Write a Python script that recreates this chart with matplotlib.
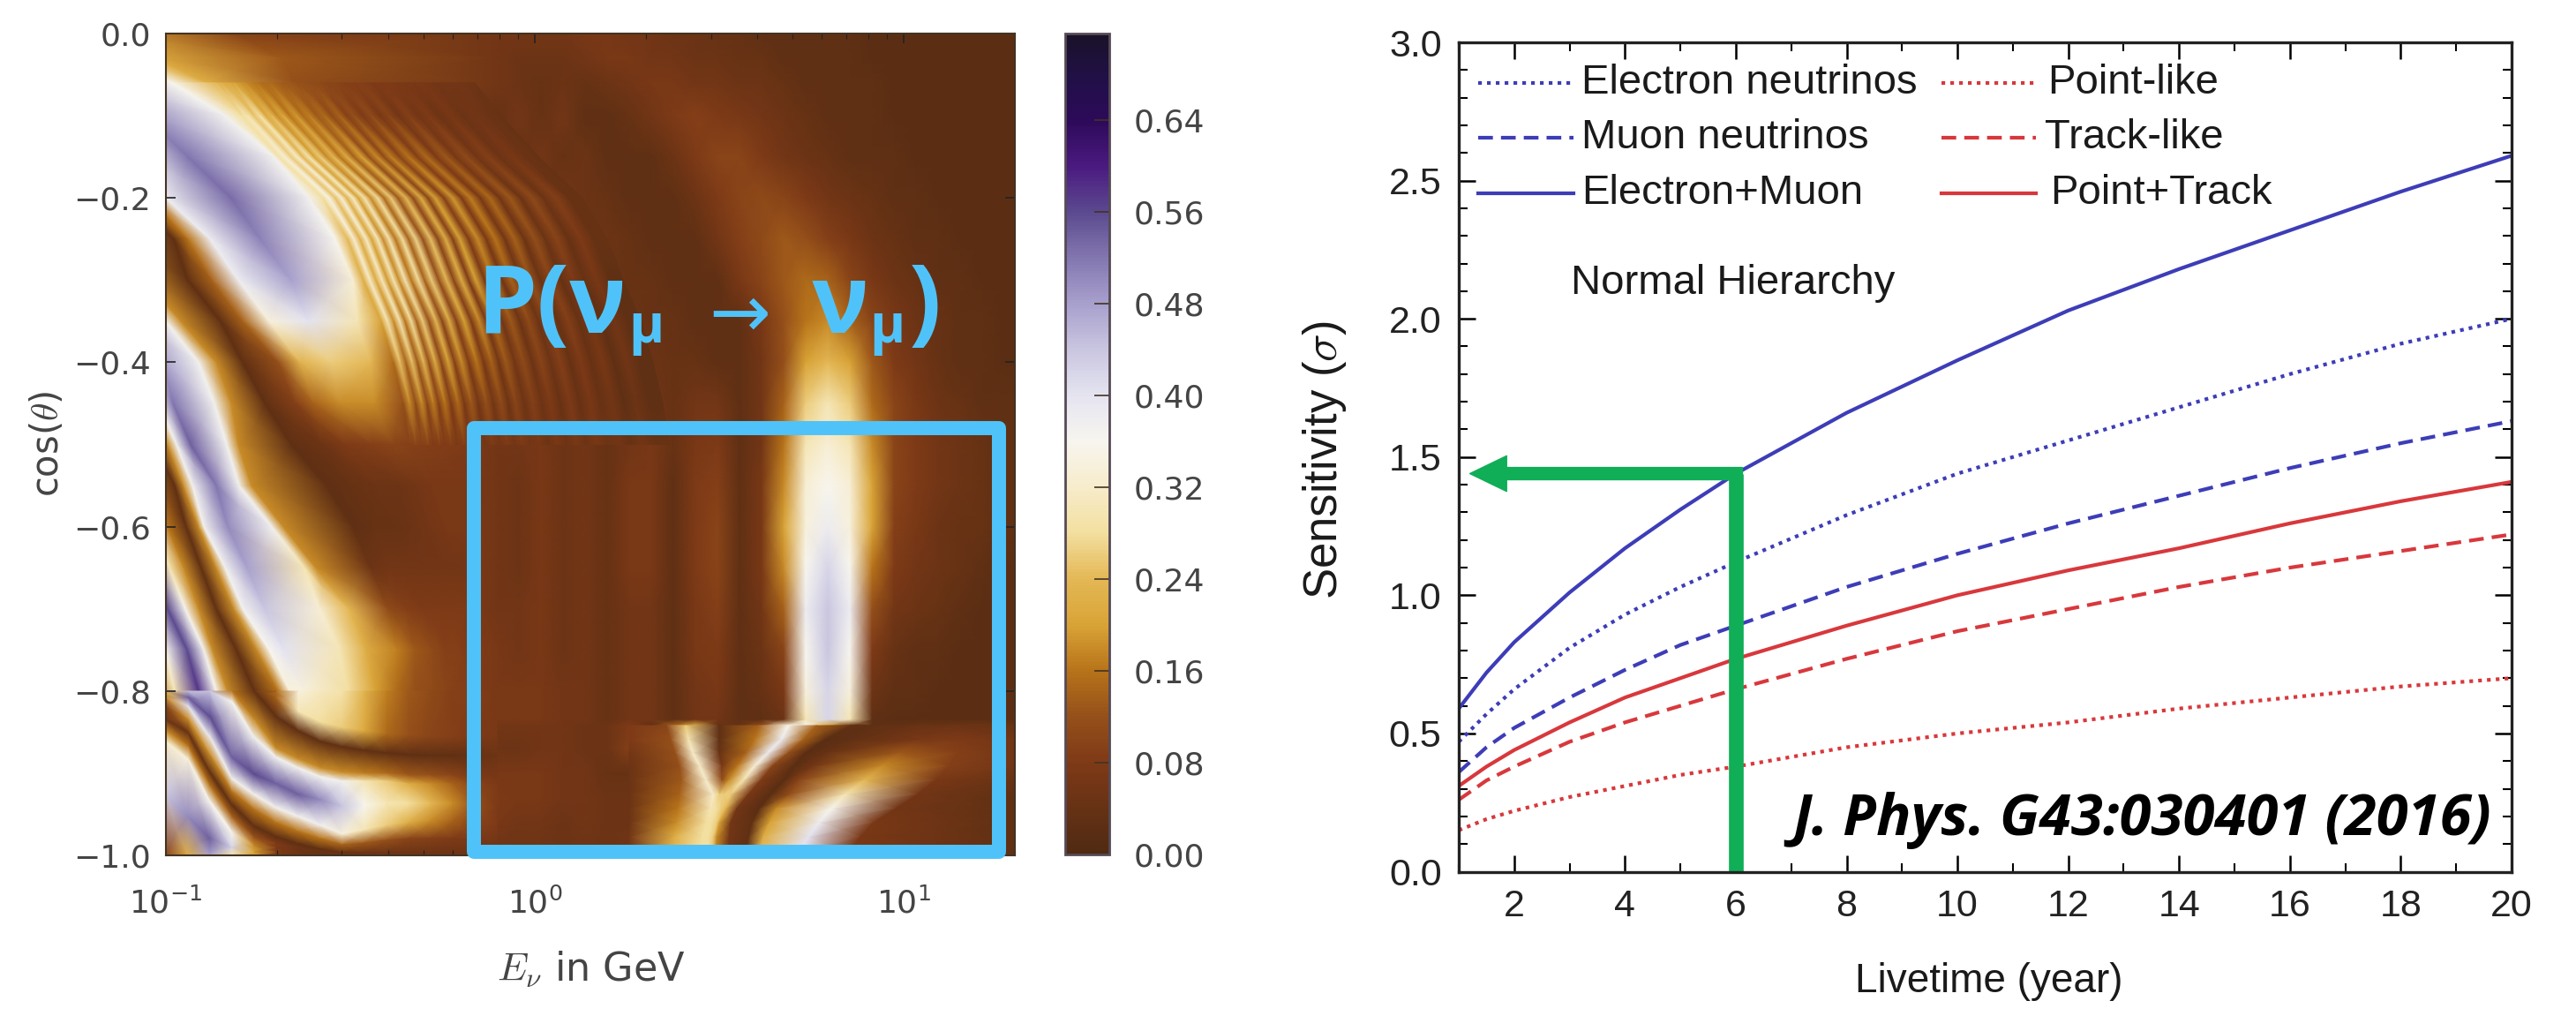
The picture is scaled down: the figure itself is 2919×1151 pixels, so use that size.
import numpy as np
import matplotlib
matplotlib.use("Agg")
import matplotlib.pyplot as plt
from matplotlib.colors import LinearSegmentedColormap
from matplotlib.patches import Rectangle
from matplotlib.ticker import MultipleLocator

# left panel: probability, in units of 0.01
log_energy = [-1.0, -.94, -.881, -.821, -.761, -.701, -.641, -.581, -.522, -.462,
              -.402, -.342, -.282, -.223, -.163, -.103, -.043, .017, .076, .136,
              .196, .256, .316, .375, .435, .495, .555, .615, .675, .734,
              .794, .854, .914, .974, 1.033, 1.093, 1.153, 1.213, 1.273, 1.301]
cos_theta = [0.0, -.03, -.06, -.1, -.15, -.2, -.25, -.3, -.35, -.4, -.45, -.5, -.55,
             -.6, -.65, -.7, -.75, -.8, -.835, -.842, -.87, -.9, -.93, -.96, -1.0]
prob = [
    [14,12,10,9,8,8,7,7,7,6, 6,7,6,6,6,6,6,6,6,7, 7,6,6,5,5,4,4,3,3,3, 3,3,2,2,2,2,2,2,2,2],
    [20,16,13,12,11,10,9,8,8,7, 7,7,6,6,6,6,5,5,5,6, 7,7,6,6,5,5,4,4,3,3, 3,3,2,2,2,2,2,2,2,2],
    [36,30,21,17,14,12,11,10,9,8, 8,7,7,7,5,6,5,4,5,4, 5,6,7,7,6,6,5,5,4,3, 3,3,3,2,2,2,2,2,2,2],
    [44,40,38,35,27,21,17,14,12,10, 9,9,7,7,5,4,6,4,6,3, 3,4,6,8,9,8,7,6,5,4, 3,3,3,2,2,2,2,2,2,2],
    [52,50,47,42,38,36,28,22,18,14, 14,10,8,9,6,7,4,6,4,5, 3,3,3,5,8,10,10,8,6,5, 4,3,3,3,2,2,2,2,2,2],
    [38,46,50,52,47,42,38,34,26,20, 20,14,12,9,8,6,7,4,6,5, 4,3,3,3,5,8,10,11,10,8, 6,5,4,3,3,2,2,2,2,2],
    [5,14,34,42,50,50,42,38,30,24, 20,14,14,9,8,8,5,6,4,5, 5,4,3,3,3,6,9,11,13,12, 9,7,5,4,3,3,2,2,2,2],
    [10,3,14,32,38,44,44,38,33,28, 24,18,14,10,9,7,6,5,5,5, 5,4,4,3,3,3,7,10,13,15, 14,10,7,5,4,3,3,2,2,2],
    [30,8,3,8,22,32,36,33,30,26, 20,15,12,9,8,6,5,5,5,4, 4,5,4,4,3,3,3,7,12,16, 18,14,10,7,5,4,3,3,2,2],
    [46,38,16,5,3,8,20,24,24,22, 18,14,10,9,8,6,6,5,5,4, 4,5,5,4,4,3,3,6,12,20, 24,20,13,8,6,4,3,3,2,2],
    [52,47,32,8,3,3,9,14,15,14, 13,11,9,8,7,6,5,6,5,5, 4,6,6,4,6,6,3,6,14,26, 30,26,15,10,7,5,4,3,3,3],
    [33,52,44,30,5,3,3,5,7,7, 7,6,7,7,7,6,6,7,5,6, 4,6,7,4,7,8,3,6,16,30, 33,30,18,10,8,6,5,4,3,3],
    [6,34,50,42,22,4,2,3,4,4, 5,5,6,7,7,6,5,7,5,6, 4,7,7,3,8,9,3,7,18,33, 36,33,20,10,8,6,5,4,3,3],
    [8,15,36,50,46,34,14,4,3,3, 4,5,6,7,6,6,5,7,5,6, 4,7,7,3,8,10,3,7,20,34, 38,34,20,9,7,5,4,4,3,3],
    [20,5,6,34,46,46,36,24,10,6, 6,6,6,6,6,6,5,7,5,6, 4,7,7,3,8,10,3,7,18,36, 42,36,16,8,6,5,4,3,2,2],
    [46,10,4,10,38,44,38,30,24,17, 13,9,9,8,7,6,6,7,5,6, 4,6,6,3,7,9,3,6,14,38, 44,38,12,6,5,4,3,2,2,2],
    [30,56,14,3,4,34,38,32,26,22, 19,14,11,9,8,7,6,7,5,6, 4,6,6,3,7,8,3,5,10,36, 44,36,8,4,3,3,2,2,2,2],
    [16,58,36,10,3,16,30,30,24,21, 17,13,11,9,9,7,7,7,6,6, 4,6,6,3,6,7,3,4,7,34, 42,34,5,3,3,2,2,2,2,2],
    [10,46,52,22,4,3,10,26,26,22, 16,12,10,9,8,7,7,7,6,6, 4,6,6,3,6,6,3,3,5,30, 42,30,3,2,2,2,2,2,2,2],
    [20,15,38,20,6,3,4,6,9,13, 12,8,7,8,7,6,6,6,6,5, 5,8,3,14,22,4,4,12,32,36, 20,4,3,3,4,4,5,5,5,4],
    [30,4,14,42,34,14,7,4,3,2, 2,2,2,3,4,5,5,6,6,5, 5,9,4,10,26,7,5,26,36,12, 2,2,3,5,7,7,8,7,6,5],
    [40,25,4,26,52,50,34,26,18,10, 7,6,5,5,6,7,7,7,6,6, 4,4,4,6,28,12,8,30,24,3, 6,16,16,11,9,8,6,5,5,4],
    [42,38,7,10,36,52,56,44,38,32, 26,22,18,14,10,8,7,7,6,6, 5,5,4,8,28,28,24,10,3,16, 26,26,22,14,9,6,4,3,3,3],
    [40,44,22,5,14,30,36,38,34,30, 24,18,17,13,9,7,6,6,5,6, 5,5,6,9,30,32,22,5,14,32, 36,24,13,8,5,3,3,3,3,3],
    [12,30,56,18,6,4,3,5,6,8, 6,5,5,5,5,5,5,5,5,5, 5,6,10,12,28,30,12,4,26,38, 34,14,6,4,3,3,3,3,3,3],
]
# low-energy bands: every row holds where each band sits, in 1/418 decade above 0.1 GeV
band_cos = cos_theta[:18]
band_pos = [
    [-888,-838,-788,-738,-688,-638,-588,-538,-488,-438,-388,-338,-288,-238,-188,-128,-68,80,375],
    [-748,-708,-668,-628,-588,-548,-508,-468,-428,-388,-348,-308,-268,-228,-128,-58,-13,130,375],
    [-648,-608,-568,-528,-488,-448,-408,-368,-328,-288,-248,-208,-178,-148,-88,7,47,147,375],
    [-488,-468,-448,-428,-408,-388,-368,-348,-328,-308,-288,-118,-98,-78,-23,67,100,187,375],
    [-408,-388,-368,-348,-328,-308,-288,-268,-248,-208,-188,-68,-43,-28,25,122,147,237,375],
    [-328,-308,-288,-268,-248,-228,-218,-208,-198,-138,-118,-43,-18,0,74,162,182,262,375],
    [-288,-268,-248,-228,-208,-178,-158,-148,-128,-83,-68,9,25,50,107,192,204,284,375],
    [-248,-228,-208,-188,-168,-138,-113,-98,-78,-38,-23,25,52,82,142,212,227,302,375],
    [-198,-178,-158,-138,-118,-93,-78,-63,-38,0,17,62,87,117,162,217,237,320,375],
    [-163,-143,-123,-103,-83,-58,-43,-28,-3,37,57,87,127,152,187,232,262,334,375],
    [-143,-123,-103,-83,-63,-38,-23,-8,8,55,74,112,147,167,197,237,272,342,375],
    [-118,-98,-78,-58,-38,-13,2,12,28,69,82,142,177,202,232,257,287,347,375],
    [-98,-78,-58,-28,-13,10,20,30,57,83,97,182,212,237,262,282,302,352,375],
    [-98,-68,-38,-13,2,23,37,43,70,120,133,212,237,257,277,297,317,357,375],
    [-63,-38,-18,4,20,40,57,67,92,157,170,232,252,272,292,312,332,357,375],
    [-38,-18,2,22,37,57,77,87,112,174,207,252,272,292,312,327,342,357,375],
    [-23,0,24,43,53,80,103,117,134,197,227,262,282,302,317,332,347,360,375],
    [-13,10,37,57,70,100,127,140,157,207,237,262,282,302,317,332,347,360,375],
]
band_prob = [
    [16,16,16,16,16,16,16,16,16,16,16,16,16,16,16,18,20,10,6],
    [30,30,30,30,30,30,30,30,30,30,30,30,30,30,44,30,21,13,6],
    [30,30,30,30,30,30,30,30,30,30,30,10,15,37,50,36,22,12,6],
    [30,30,30,30,30,30,30,30,30,30,18,3,18,37,50,37,27,13,4],
    [30,30,30,30,18,3,18,37,52,37,18,3,18,38,52,37,27,14,7],
    [30,40,50,37,18,3,18,37,52,37,18,4,16,38,53,37,28,14,6],
    [30,40,50,37,18,3,18,37,52,37,18,3,16,38,51,36,26,15,8],
    [30,40,50,37,18,3,18,37,52,37,18,3,14,38,48,33,25,15,7],
    [30,40,50,37,18,3,18,37,52,37,18,3,14,34,40,30,22,13,6],
    [30,40,50,37,18,3,18,37,48,37,18,3,12,23,26,24,22,13,6],
    [30,40,50,37,18,3,18,37,52,37,18,3,9,14,18,18,15,10,6],
    [30,40,50,37,18,3,18,37,54,37,18,3,5,8,9,10,9,8,6],
    [24,40,50,30,14,3,18,37,52,37,18,3,4,5,5,6,7,7,6],
    [24,40,54,34,16,3,18,37,50,37,18,3,4,4,5,6,7,7,6],
    [30,40,56,30,18,3,18,37,48,30,18,5,6,6,6,6,6,7,6],
    [24,38,56,36,18,3,18,37,44,33,24,11,9,8,8,8,8,7,6],
    [18,36,56,37,18,3,18,36,40,30,22,17,13,11,9,9,8,8,7],
    [14,30,58,36,18,3,16,34,34,28,20,15,12,11,10,9,9,8,7],
]
# fringes right of the first bright band: trough, ridge, trough ... read along cos = -0.25,
# with how far each row sits from that one, same unit as band_pos
fringe_pos = [206,213,220,227,233,240,246,253,260,268,275,283,291,300,308,317,325,333,343,353,
              363,373,384,395,406,418,430,443,456,470,485,500]
fringe_cos = [-.06, -.1, -.15, -.2, -.25, -.3, -.35, -.4, -.45, -.5]
fringe_shift = [-150, -120, -78, -28, 0, 18, 38, 52, 63, 70]
fringe_left = [7, 67, 122, 162, 192, 212, 217, 232, 237, 257]
fringe_prob = [
    [36,24,22,21,20,19,18,17,16,15,15,14,13,13,12,12,11,11,10,10,9,9,9,8,8,8,7,7,7,6,6,6,5],
    [37,28,30,25,29,21,24,18,21,16,19,15,17,13,15,11,14,9,12,8,11,7,10,6,9,6,8,5,7,5,6,5,4],
    [37,29,33,26,32,24,30,20,26,18,24,16,22,14,20,12,18,11,17,10,16,9,15,8,13,7,11,6,9,5,7,5,4],
    [37,28,35,25,34,23,32,20,30,18,28,15,26,13,24,11,22,10,20,9,19,8,17,7,15,6,13,5,11,5,9,4,4],
    [36,24,33,22,32,20,31,18,30,16,28,14,27,12,25,10,22,9,20,8,18,7,16,6,14,5,12,5,10,4,8,4,4],
    [33,22,32,21,31,19,30,18,30,16,28,14,26,12,24,10,22,8,20,7,16,6,14,6,12,5,10,4,8,4,7,3,3],
    [30,20,30,18,30,16,28,14,26,12,24,10,22,9,20,8,18,7,15,6,13,5,11,5,10,4,9,4,7,3,6,3,3],
    [24,15,25,14,25,13,24,12,22,10,20,9,18,8,16,7,14,6,13,6,11,5,10,5,9,4,8,4,7,3,6,3,3],
    [18,12,18,11,18,10,17,9,16,8,15,7,13,6,12,6,11,5,10,5,9,5,8,4,8,4,7,4,6,3,5,3,3],
    [10,9,10,9,10,8,9,8,9,7,9,7,9,6,8,6,8,6,8,6,7,5,7,5,7,5,7,5,6,4,6,4,4],
]
# bottom left corner: one column per energy, where each band sits in 1/931 of the cos range
low_pos = [
    [745,745,745,745,745,745,752,762,777,790,802,862,931],
    [745,745,745,745,745,752,762,777,792,807,822,887,931],
    [745,745,745,745,745,774,797,817,837,852,870,912,931],
    [745,745,745,745,757,820,844,859,874,887,905,922,931],
    [745,745,745,777,797,839,862,879,898,910,920,927,931],
    [745,752,774,810,820,850,877,894,910,917,922,927,931],
    [745,768,790,822,832,862,887,904,918,922,926,928,931],
    [745,780,802,832,842,868,897,912,924,926,928,930,931],
    [745,786,808,837,847,875,907,919,928,929,930,930.5,931],
    [745,790,812,838,847,874,902,917,928,929,930,930.5,931],
    [745,793,815,838,847,872,897,914,928,929,930,930.5,931],
    [745,795,817,840,850,872,894,912,928,929,930,930.5,931],
    [745,796,818,840,850,872,892,912,928,929,930,930.5,931],
    [745,796,818,840,850,872,892,912,928,929,930,930.5,931],
    [745,796,818,842,850,874,892,914,928,929,930,930.5,931],
    [745,796,818,844,852,877,897,917,928,929,930,930.5,931],
]
low_prob = [
    [23,23,23,23,23,23,18,10,5,18,32,44,10],
    [45,45,45,45,45,54,40,18,4,16,34,50,22],
    [44,44,44,44,44,56,38,18,3,16,36,54,48],
    [16,16,16,16,36,54,37,16,3,14,36,42,30],
    [3,3,3,18,37,56,37,16,3,12,18,20,20],
    [15,14,3,18,37,54,37,16,3,8,8,8,8],
    [34,30,3,18,37,54,37,16,3,5,5,5,5],
    [31,28,3,18,37,50,37,16,3,4,4,4,4],
    [29,26,3,18,37,44,34,14,4,5,5,5,5],
    [23,21,3,17,30,36,30,13,5,5,5,5,5],
    [17,15,3,15,26,30,26,12,5,5,5,5,5],
    [13,12,3,13,22,28,22,10,5,5,5,5,5],
    [11,10,3,12,18,24,18,9,5,5,5,5,5],
    [9,9,3,10,14,18,14,8,5,5,5,5,5],
    [9,8,4,8,10,12,10,7,5,5,5,5,5],
    [7,7,5,7,8,8,8,6,5,5,5,5,5],
]
# below the break at high energy, same units: the V and the curved band right of it
core_depth = [784, 800, 815, 830, 846, 862, 878, 894, 910, 931]
core_pos = [
    [525,567,589,627,672,705,737,777,797,842,892,962],
    [525,572,592,627,667,697,722,747,772,852,897,962],
    [525,577,597,627,657,682,705,725,747,832,897,962],
    [525,582,605,630,647,667,687,712,732,812,887,962],
    [525,584,612,630,638,654,674,700,717,792,872,962],
    [525,582,620,627,632,640,660,685,707,770,852,962],
    [525,580,617,624,629,634,647,672,692,754,827,962],
    [525,578,612,618,624,627,640,664,684,740,802,962],
    [525,576,607,615,620,624,638,660,677,728,787,962],
    [525,576,607,615,620,624,638,657,672,717,772,962],
]
core_prob = [
    [8,10,26,3,14,36,14,3,3,4,5,4],
    [8,12,30,3,16,38,14,2,3,7,8,6],
    [6,12,32,4,14,38,12,2,4,13,9,6],
    [5,12,32,7,16,34,10,2,6,18,9,6],
    [5,13,32,12,18,30,8,2,10,24,7,4],
    [5,14,32,26,26,26,7,2,12,30,6,3],
    [5,16,30,28,26,24,6,2,18,36,6,3],
    [5,18,28,28,26,20,6,3,20,38,7,3],
    [6,22,28,28,26,18,6,3,22,40,7,3],
    [6,24,28,28,24,16,5,3,24,40,8,3],
]
cbar_ticks = [0.0, 0.08, 0.16, 0.24, 0.32, 0.40, 0.48, 0.56, 0.64]
cbar_stops = [(0.00, '#4f2a12'), (0.08, '#7f3a17'), (0.12, '#95501a'), (0.16, '#b8741a'),
              (0.20, '#d9a437'), (0.24, '#e4b856'), (0.28, '#f3dfa0'), (0.32, '#f7eccb'),
              (0.36, '#f7f5ef'), (0.40, '#e5e4f0'), (0.44, '#c9c6e0'), (0.48, '#a8a0cd'),
              (0.52, '#8377b0'), (0.56, '#5b4a8f'), (0.60, '#4b1a80'), (0.64, '#2d0a5a'),
              (0.68, '#201045'), (0.715, '#1a1228')]

# right panel
years = [1, 1.5, 2, 3, 4, 5, 6, 8, 10, 12, 14, 16, 18, 20]
electron = [.47, .57, .66, .81, .93, 1.03, 1.12, 1.29, 1.44, 1.56, 1.68, 1.80, 1.91, 2.00]
muon = [.36, .45, .52, .63, .73, .82, .89, 1.03, 1.15, 1.26, 1.36, 1.46, 1.55, 1.63]
electron_muon = [.59, .72, .83, 1.01, 1.17, 1.31, 1.44, 1.66, 1.85, 2.03, 2.18, 2.32, 2.46, 2.59]
point = [.15, .19, .22, .27, .31, .35, .38, .45, .50, .54, .59, .63, .67, .70]
track = [.26, .33, .38, .47, .54, .60, .66, .77, .87, .95, 1.03, 1.10, 1.16, 1.22]
point_track = [.31, .38, .44, .54, .63, .70, .77, .89, 1.00, 1.09, 1.17, 1.26, 1.34, 1.41]

W, H = 2919, 1151
BLUE = '#3d3db8'
RED = '#d8383c'
GREEN = '#0fae57'
CYAN = '#4fc3f9'
GREY = '#444444'
DOT = (0, (1, 1.4))
DASH = (0, (4, 2.2))

plt.rcParams['mathtext.fontset'] = 'cm'
fig = plt.figure(figsize=(W / 100, H / 100), dpi=100)


def box(x0, y0, x1, y1):
    return [x0 / W, 1 - y1 / H, (x1 - x0) / W, (y1 - y0) / H]


def put(x, y, s, **kw):
    fig.text(x / W, 1 - y / H, s, **kw)


def to_energy(pos):
    return 0.1 * 10 ** (np.array(pos) / 418)


# oscillogram
ax = fig.add_axes(box(188, 38, 1150, 969))
cmap = LinearSegmentedColormap.from_list('osc', [(v / 0.715, c) for v, c in cbar_stops])
energy = 10 ** np.array(log_energy)
shade = dict(cmap=cmap, vmin=0, vmax=0.715, shading='gouraud', rasterized=True)
mesh = ax.pcolormesh(energy, cos_theta, np.array(prob) / 100, **shade)

band_energy = to_energy(band_pos)
band_y = np.tile(np.array(band_cos)[:, None], (1, band_energy.shape[1]))
ax.pcolormesh(band_energy, band_y, np.array(band_prob) / 100, zorder=1.1, **shade)

fringe_x = np.array(fringe_pos) + np.array(fringe_shift)[:, None]
fringe_x = np.hstack([np.array(fringe_left)[:, None], fringe_x])
fringe_y = np.tile(np.array(fringe_cos)[:, None], (1, fringe_x.shape[1]))
ax.pcolormesh(to_energy(fringe_x), fringe_y, np.array(fringe_prob) / 100, zorder=1.15, **shade)

low_x = np.tile(energy[:16, None], (1, len(low_pos[0])))
ax.pcolormesh(low_x, -np.array(low_pos) / 931, np.array(low_prob) / 100, zorder=1.2, **shade)

core_y = np.tile(-np.array(core_depth)[:, None] / 931, (1, len(core_pos[0])))
ax.pcolormesh(to_energy(core_pos), core_y, np.array(core_prob) / 100, zorder=1.25, **shade)

ax.set_xscale('log')
ax.set_xlim(0.1, 20)
ax.set_ylim(-1, 0)
ax.set_yticks([-1, -.8, -.6, -.4, -.2, 0])
ax.tick_params(which='major', direction='in', length=8, width=1.2, labelsize=26,
               labelcolor=GREY, color='#222222', pad=12, top=True, right=True)
ax.tick_params(which='minor', direction='in', length=4, width=0.8, color='#222222', top=True)
ax.tick_params(axis='x', pad=26)
for s in ax.spines.values():
    s.set_linewidth(1.5)
    s.set_color('#443322')
put(670, 1098, r'$E_\nu$ in GeV', fontsize=32, color=GREY, ha='center', va='center')
put(54, 503, r'cos($\theta$)', fontsize=30, color=GREY, ha='center', va='center', rotation=90)

cax = fig.add_axes(box(1207, 38, 1257, 968))
cb = fig.colorbar(mesh, cax=cax, ticks=cbar_ticks)
cb.ax.set_yticklabels(['%.2f' % t for t in cbar_ticks])
cb.ax.tick_params(direction='in', length=12, width=1.2, labelsize=26, labelcolor=GREY,
                  color='#443322', pad=20)
cb.outline.set_edgecolor('#554a55')
cb.outline.set_linewidth(2)

# blue overlay, drawn on the figure
fig.add_artist(Rectangle((537 / W, 1 - 965 / H), 595 / W, 480.5 / H, transform=fig.transFigure,
                         fill=False, edgecolor=CYAN, linewidth=11.5, joinstyle='round'))
bold = dict(color=CYAN, fontweight='bold', family='Open Sans', va='baseline', ha='left')
put(540, 377, 'P(\u03bd', fontsize=78, **bold)
put(712, 388, '\u03bc', fontsize=44, **bold)
put(920, 377, '\u03bd', fontsize=78, **bold)
put(985, 388, '\u03bc', fontsize=44, **bold)
put(1030, 377, ')', fontsize=78, **bold)
put(838, 358, '\u2192', fontsize=60, color=CYAN, family='DejaVu Sans', ha='center', va='center')

# sensitivity
ax2 = fig.add_axes(box(1653, 48, 2846, 987.5))
ax2.plot(years, electron, color=BLUE, lw=3, ls=DOT)
ax2.plot(years, muon, color=BLUE, lw=3, ls=DASH)
ax2.plot(years, electron_muon, color=BLUE, lw=3)
ax2.plot(years, point, color=RED, lw=3, ls=DOT)
ax2.plot(years, track, color=RED, lw=3, ls=DASH)
ax2.plot(years, point_track, color=RED, lw=3)
ax2.set_xlim(1, 20)
ax2.set_ylim(0, 3)
ax2.xaxis.set_major_locator(MultipleLocator(2))
ax2.xaxis.set_minor_locator(MultipleLocator(1))
ax2.yaxis.set_major_locator(MultipleLocator(0.5))
ax2.yaxis.set_minor_locator(MultipleLocator(0.1))
ax2.tick_params(which='major', direction='in', length=14, width=1.8, top=True, right=True,
                labelsize=31, labelcolor='#222222', pad=14)
ax2.tick_params(which='minor', direction='in', length=7, width=1.5, top=True, right=True)
for lab in ax2.get_xticklabels() + ax2.get_yticklabels():
    lab.set_family('Liberation Sans')
for s in ax2.spines.values():
    s.set_linewidth(2.4)
    s.set_color('#222222')
ax2.plot([6, 6], [0, 1.44], color=GREEN, lw=12, solid_capstyle='butt')
ax2.annotate('', xy=(1.2, 1.44), xytext=(6.12, 1.44),
             arrowprops=dict(width=10, headwidth=29, headlength=30, color=GREEN, shrink=0))

txt = dict(family='Liberation Sans', color='#1a1a1a', va='center', ha='left', fontsize=34)
for y, s1, s2, x2, ls in [(94, 'Electron neutrinos', 'Point-like', 2320, DOT),
                          (156, 'Muon neutrinos', 'Track-like', 2317, DASH),
                          (219, 'Electron+Muon', 'Point+Track', 2323, '-')]:
    put(1792, y, s1, **txt)
    put(x2, y, s2, **txt)
    for x0, x1, c in [(1675, 1783, BLUE), (2200, 2307, RED)]:
        fig.add_artist(plt.Line2D([x0 / W, x1 / W], [1 - y / H] * 2, color=c, lw=3, ls=ls))
put(1780, 321, 'Normal Hierarchy', **txt)
put(2254, 1112, 'Livetime (year)', family='Liberation Sans', color='#1a1a1a', ha='center',
    va='center', fontsize=33)
put(1501, 521, 'Sensitivity ($\\sigma$)', family='Liberation Sans', color='#1a1a1a', ha='center',
    va='center', rotation=90, fontsize=38)
put(2823, 929, 'J. Phys. G43:030401 (2016)', family='Open Sans', fontweight='bold', style='italic',
    color='black', ha='right', va='center', fontsize=47)

fig.savefig('out.png', dpi=100)
